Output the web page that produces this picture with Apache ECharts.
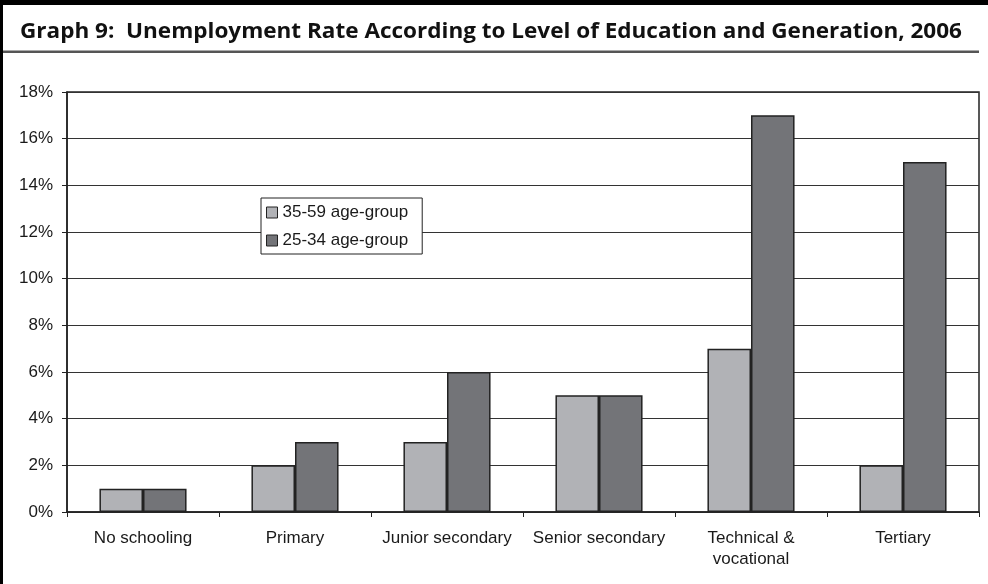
<!DOCTYPE html>
<html>
<head>
<meta charset="utf-8">
<script src="https://cdn.jsdelivr.net/npm/echarts@6/dist/echarts.min.js"></script>
<style>
html,body{margin:0;padding:0;background:#fff;}
#chart{width:988px;height:584px;}
</style>
</head>
<body>
<div id="chart"></div>
<script>
const titleText = 'Graph 9:  Unemployment Rate According to Level of Education and Generation, 2006';
const categories = ['No schooling', 'Primary', 'Junior secondary', 'Senior secondary', 'Technical &\nvocational', 'Tertiary'];
const seriesNames = ['35-59 age-group', '25-34 age-group'];
const olderValues = [1, 2, 3, 5, 7, 2];
const youngerValues = [1, 3, 6, 5, 17, 15];
const yTicks = [0, 2, 4, 6, 8, 10, 12, 14, 16, 18];

const titleFont = 'bold 22px "Open Sans", sans-serif';
const titleTargetWidth = 942;
const ctx = document.createElement('canvas').getContext('2d');
ctx.font = titleFont;
const titleScale = titleTargetWidth / ctx.measureText(titleText).width;

const chart = echarts.init(document.getElementById('chart'), null, {renderer: 'canvas'});
const labelFont = {fontFamily: 'Liberation Sans, Arial, sans-serif', fontSize: 17, color: '#1a1a1a'};

chart.setOption({
  animation: false,
  backgroundColor: '#fff',
  graphic: [
    {type: 'rect', shape: {x: 0, y: 0, width: 988, height: 5}, style: {fill: '#000'}},
    {type: 'rect', shape: {x: 0, y: 0, width: 3, height: 584}, style: {fill: '#000'}},
    {type: 'rect', shape: {x: 3, y: 50.5, width: 976, height: 2.5}, style: {fill: '#555'}},
    {type: 'text', x: 20, y: 32, scaleX: titleScale, style: {text: titleText, font: titleFont, fill: '#111', verticalAlign: 'middle'}}
  ],
  grid: {left: 67, right: 9, top: 92, bottom: 72, show: true, borderColor: '#222', borderWidth: 1.5, backgroundColor: 'transparent'},
  legend: {
    data: seriesNames,
    orient: 'vertical',
    left: 261, top: 198,
    padding: [6, 14, 5, 5],
    itemWidth: 11, itemHeight: 11, itemGap: 11, itemTextGap: 5,
    icon: 'rect',
    backgroundColor: '#fff',
    borderColor: '#222', borderWidth: 1,
    textStyle: {fontFamily: 'Liberation Sans, Arial, sans-serif', fontSize: 17, color: '#1a1a1a'},
    itemStyle: {borderColor: '#222', borderWidth: 1}
  },
  xAxis: {
    type: 'category',
    data: categories,
    axisLine: {lineStyle: {color: '#222', width: 1.5}},
    axisTick: {show: true, length: 5, inside: false, alignWithLabel: false, lineStyle: {color: '#222', width: 1}},
    axisLabel: Object.assign({margin: 16, lineHeight: 21, interval: 0}, labelFont),
    splitLine: {show: false}
  },
  yAxis: {
    type: 'value',
    min: yTicks[0], max: yTicks[yTicks.length - 1], interval: 2,
    axisLine: {show: true, lineStyle: {color: '#222', width: 1.5}},
    axisTick: {show: true, length: 5, lineStyle: {color: '#222', width: 1}},
    axisLabel: Object.assign({margin: 14, formatter: v => v + '%'}, labelFont),
    splitLine: {show: true, lineStyle: {color: '#333', width: 1}}
  },
  series: [
    {name: seriesNames[0], type: 'bar', data: olderValues, barGap: '0%', barCategoryGap: '42.7%',
     itemStyle: {color: '#b1b2b6', borderColor: '#222', borderWidth: 1.5}},
    {name: seriesNames[1], type: 'bar', data: youngerValues, barGap: '0%', barCategoryGap: '42.7%',
     itemStyle: {color: '#737478', borderColor: '#222', borderWidth: 1.5}}
  ]
});
</script>
</body>
</html>
